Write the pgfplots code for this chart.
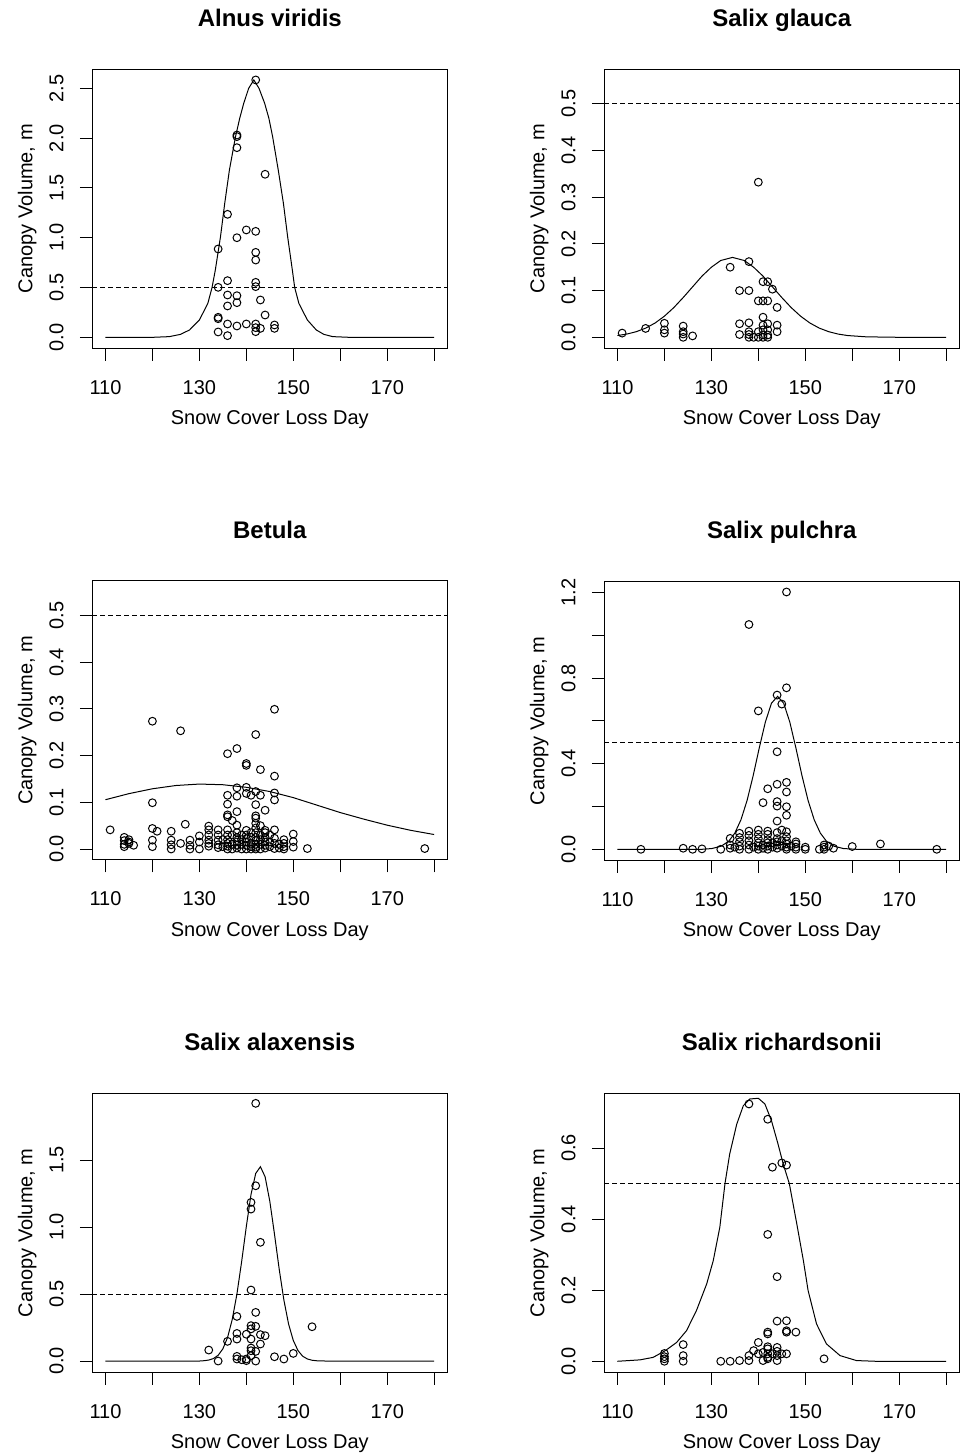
\documentclass[border=0pt]{standalone}
\usepackage{fontspec}
\setmainfont{Liberation Sans}
\usepackage{pgfplots}
\pgfplotsset{compat=1.18}
\newcommand{\labfont}{\fontsize{20}{24}\selectfont}
\newcommand{\titfont}{\fontsize{24}{28}\selectfont\bfseries}
\pgfplotsset{
 rpanel/.style={scale only axis, width=355pt, height=279pt, anchor=south west,
   xmin=107.2, xmax=182.8, xtick={110,120,...,180}, xticklabels={}, yticklabels={},
   tick align=outside, xtick pos=left, ytick pos=left, major tick length=12.5pt,
   tick style={black, line width=1pt}, axis line style={black, line width=1pt},
   clip=false},
 pts/.style={only marks, mark=o, mark size=3.9pt, mark options={line width=1pt, black}, black},
 crv/.style={no markers, black, line width=1pt},
 hl/.style={no markers, black, line width=1pt, dash pattern=on 4.5pt off 3.5pt},
}
\newcommand{\ylab}[2]{\node[rotate=90,anchor=base,font=\labfont,inner sep=0pt] at ([xshift=-29pt]axis cs:107.2,#1) {#2};}
\newcommand{\xlabs}[1]{%
 \node[anchor=base,font=\labfont,inner sep=0pt] at ([yshift=-46pt]axis cs:110,#1) {110};
 \node[anchor=base,font=\labfont,inner sep=0pt] at ([yshift=-46pt]axis cs:130,#1) {130};
 \node[anchor=base,font=\labfont,inner sep=0pt] at ([yshift=-46pt]axis cs:150,#1) {150};
 \node[anchor=base,font=\labfont,inner sep=0pt] at ([yshift=-46pt]axis cs:170,#1) {170};}
\newcommand{\ptext}[1]{%
 \node[anchor=base,font=\titfont,inner sep=0pt] at ([yshift=42.6pt]rel axis cs:0.5,1) {#1};
 \node[anchor=base,font=\labfont,inner sep=0pt] at ([yshift=-76.5pt]rel axis cs:0.5,0) {Snow Cover Loss Day};
 \node[anchor=base,font=\labfont,inner sep=0pt,rotate=90] at ([xshift=-60pt]rel axis cs:0,0.5) {Canopy Volume, m};}
\begin{document}
\begin{tikzpicture}
\path[use as bounding box] (0,0) rectangle (961pt,1454pt);

% ---------- Panel 1: Alnus viridis
\begin{axis}[rpanel, at={(92.3pt,1105.7pt)}, ymin=-0.110, ymax=2.691, ytick={0,0.5,1,1.5,2,2.5}]
\addplot[hl] coordinates {(107.2,0.5) (182.8,0.5)};
\addplot[crv] coordinates {(110,0) (120,0) (123.6,0.007) (126,0.03) (127.9,0.074) (130,0.174) (131.8,0.34) (132.7,0.50) (133.4,0.676) (134.5,1.01) (135.4,1.345) (136.4,1.68) (137.7,2.015) (138.6,2.2) (139.45,2.35) (140.5,2.5) (141.6,2.584) (142.7,2.5) (143.9,2.35) (144.8,2.2) (145.6,2.015) (146.8,1.68) (147.9,1.345) (148.8,1.01) (149.8,0.676) (150.3,0.50) (151.2,0.34) (153.0,0.174) (154.9,0.074) (156.5,0.03) (158.4,0.007) (162,0) (180,0)};
\addplot[pts] coordinates {(142,2.584)(138,2.031)(138,2.015)(138,1.904)(144,1.637)(136,1.235)(140,1.078)(142,1.064)(138,1.0)(134,0.887)(142,0.853)(142,0.776)(136,0.569)(142,0.552)(142,0.509)(134,0.502)(136,0.425)(138,0.418)(138,0.348)(143,0.375)(136,0.315)(144,0.224)(134,0.201)(134,0.187)(136,0.134)(140,0.134)(142,0.134)(138,0.114)(146,0.124)(142,0.097)(143,0.090)(146,0.090)(142,0.057)(134,0.054)(136,0.017)};
\ylab{0}{0.0}\ylab{0.5}{0.5}\ylab{1}{1.0}\ylab{1.5}{1.5}\ylab{2}{2.0}\ylab{2.5}{2.5}
\xlabs{-0.110}
\ptext{Alnus viridis}
\end{axis}

% ---------- Panel 2: Salix glauca
\begin{axis}[rpanel, at={(604.3pt,1105.7pt)}, ymin=-0.0235, ymax=0.5736, ytick={0,0.1,0.2,0.3,0.4,0.5}]
\addplot[hl] coordinates {(107.2,0.5) (182.8,0.5)};
\addplot[crv] coordinates {(110,0.0038) (112,0.0069) (114,0.012) (116,0.0196) (118,0.0305) (120,0.0452) (122,0.0636) (124,0.0851) (126,0.108) (128,0.1309) (130,0.150) (132,0.1644) (134.5,0.171) (137,0.1644) (139,0.150) (141,0.1309) (143,0.108) (145,0.0851) (147,0.0636) (149,0.0452) (151,0.0305) (153,0.0196) (155,0.012) (157,0.0069) (159,0.0038) (163,0.001) (170,0) (180,0)};
\addplot[pts] coordinates {(111,0.009)(116,0.019)(120,0.030)(120,0.016)(120,0.009)(124,0.024)(124,0.012)(124,0.007)(124,0.0)(126,0.003)(134,0.150)(138,0.162)(136,0.100)(138,0.100)(141,0.119)(142,0.119)(143,0.103)(140,0.078)(141,0.078)(142,0.078)(144,0.064)(140,0.332)(136,0.029)(138,0.031)(136,0.006)(138,0.012)(138,0.006)(138,0.0)(139,0.0)(140,0.012)(141,0.043)(141,0.026)(141,0.016)(141,0.005)(142,0.029)(142,0.016)(142,0.005)(144,0.026)(144,0.012)(141,0.0)(140,0.0)(142,0.0)};
\ylab{0}{0.0}\ylab{0.1}{0.1}\ylab{0.2}{0.2}\ylab{0.3}{0.3}\ylab{0.4}{0.4}\ylab{0.5}{0.5}
\xlabs{-0.0235}
\ptext{Salix glauca}
\end{axis}

% ---------- Panel 3: Betula
\begin{axis}[rpanel, at={(92.3pt,594pt)}, ymin=-0.0235, ymax=0.5736, ytick={0,0.1,0.2,0.3,0.4,0.5}]
\addplot[hl] coordinates {(107.2,0.5) (182.8,0.5)};
\addplot[crv] coordinates {(110,0.1055) (115,0.1185) (120,0.1289) (125,0.1359) (130,0.139) (135,0.1376) (140,0.1321) (145,0.1230) (150,0.110) (155,0.094) (160,0.078) (165,0.064) (170,0.051) (175,0.040) (180,0.031)};
\addplot[pts] coordinates {(111,0.041)(114,0.025)(114,0.018)(114,0.01)(114,0.005)(115,0.02)(115,0.015)(115,0.012)(116,0.008)(120,0.2735)(120,0.099)(120,0.044)(120,0.019)(120,0.005)(121,0.038)(126,0.253)(127,0.053)(124,0.038)(124,0.019)(124,0.009)(124,0.0)(126,0.012)(153,0.001)(178,0.001)
(128,0.019)(128,0.008)(128,0.0)
(130,0.028)(130,0.015)(130,0.0)
(132,0.049)(132,0.041)(132,0.03)(132,0.019)(132,0.012)(132,0.006)
(134,0.041)(134,0.03)(134,0.019)(134,0.009)(134,0.003)
(135,0.02)(135,0.005)
(136,0.204)(136,0.115)(136,0.096)(136,0.073)(136,0.069)(136,0.041)(136,0.03)(136,0.02)(136,0.012)(136,0.006)(136,0.0)
(137,0.061)(137,0.03)(137,0.01)(137,0.0)
(138,0.215)(138,0.131)(138,0.113)(138,0.080)(138,0.051)(138,0.035)(138,0.025)(138,0.015)(138,0.008)(138,0.002)
(139,0.03)(139,0.02)(139,0.01)(139,0.0)
(140,0.183)(140,0.179)(140,0.132)(140,0.119)(140,0.04)(140,0.03)(140,0.022)(140,0.015)(140,0.008)(140,0.0)
(141,0.115)(141,0.035)(141,0.025)(141,0.012)(141,0.005)(141,0.0)
(142,0.245)(142,0.123)(142,0.095)(142,0.071)(142,0.066)(142,0.055)(142,0.045)(142,0.035)(142,0.025)(142,0.018)(142,0.01)(142,0.004)(142,0.0)
(143,0.170)(143,0.115)(143,0.05)(143,0.03)(143,0.02)(143,0.01)(143,0.0)
(144,0.083)(144,0.04)(144,0.035)(144,0.025)(144,0.015)(144,0.008)(144,0.002)
(145,0.03)(145,0.015)(145,0.005)
(146,0.299)(146,0.156)(146,0.120)(146,0.105)(146,0.041)(146,0.023)(146,0.012)(146,0.001)
(147,0.01)(147,0.002)
(148,0.02)(148,0.012)(148,0.005)(148,0.0)
(150,0.032)(150,0.016)(150,0.004)};
\ylab{0}{0.0}\ylab{0.1}{0.1}\ylab{0.2}{0.2}\ylab{0.3}{0.3}\ylab{0.4}{0.4}\ylab{0.5}{0.5}
\xlabs{-0.0235}
\ptext{Betula}
\end{axis}

% ---------- Panel 4: Salix pulchra
\begin{axis}[rpanel, at={(604.3pt,593.7pt)}, ymin=-0.0514, ymax=1.253, ytick={0,0.2,0.4,0.6,0.8,1.0,1.2}]
\addplot[hl] coordinates {(107.2,0.5) (182.8,0.5)};
\addplot[crv] coordinates {(110,0) (128,0) (130.1,0.0036) (132.1,0.0146) (133.7,0.038) (135,0.076) (136.3,0.138) (137.6,0.228) (138.9,0.344) (140.2,0.474) (141.5,0.595) (142.8,0.683) (144.1,0.715) (145.4,0.683) (146.7,0.595) (148,0.474) (149.3,0.344) (150.6,0.228) (151.9,0.138) (153.2,0.076) (154.5,0.038) (156.1,0.0146) (158.1,0.0036) (161,0) (180,0)};
\addplot[pts] coordinates {(115,0)(124,0.005)(126,0)(128,0.002)(132,0)(138,1.051)(146,1.203)(146,0.755)(144,0.721)(145,0.679)(140,0.647)(144,0.456)(144,0.304)(146,0.313)(146,0.268)(142,0.283)(141,0.218)(144,0.223)(144,0.202)(146,0.199)(146,0.159)(144,0.132)(145,0.09)(144,0.078)(146,0.082)(146,0.059)
(134,0.051)(134,0.02)(134,0.005)(135,0.01)(136,0.075)(136,0.055)(136,0.035)(136,0.015)(136,0.0)(138,0.085)(138,0.065)(138,0.04)(138,0.02)(138,0.0)(139,0.01)(140,0.09)(140,0.07)(140,0.05)(140,0.03)(140,0.015)(140,0.0)(141,0.02)(141,0.005)(142,0.085)(142,0.07)(142,0.045)(142,0.03)(142,0.015)(142,0.0)(143,0.03)(143,0.01)(144,0.05)(144,0.035)(144,0.02)(144,0.005)(145,0.04)(145,0.015)(146,0.04)(146,0.025)(146,0.01)(146,0.0)(147,0.015)(148,0.035)(148,0.025)(148,0.01)(148,0.0)(150,0.01)(150,0.0)(153,0.0)(154,0.01)(154,0.0)(154,0.02)(155,0.015)(156,0.005)(160,0.013)(166,0.025)(178,0.0)};
\ylab{0}{0.0}\ylab{0.4}{0.4}\ylab{0.8}{0.8}\ylab{1.2}{1.2}
\xlabs{-0.0514}
\ptext{Salix pulchra}
\end{axis}

% ---------- Panel 5: Salix alaxensis
\begin{axis}[rpanel, at={(92.3pt,81.7pt)}, ymin=-0.084, ymax=1.998, ytick={0,0.5,1.0,1.5}]
\addplot[hl] coordinates {(107.2,0.5) (182.8,0.5)};
\addplot[crv] coordinates {(110,0) (130,0) (131,0.0025) (132,0.0074) (133,0.0185) (134,0.043) (135,0.0906) (136,0.175) (137,0.31) (138,0.50) (139,0.741) (140,1.004) (141,1.243) (142,1.40) (143,1.45) (144,1.375) (145,1.193) (146,0.946) (147,0.686) (148,0.455) (149,0.276) (150,0.154) (151,0.078) (152,0.036) (153,0.0155) (154,0.006) (155,0.002) (157,0) (180,0)};
\addplot[pts] coordinates {(142,1.923)(142,1.308)(141,1.184)(141,1.134)(143,0.886)(141,0.530)(142,0.363)(138,0.333)(154,0.256)(141,0.264)(141,0.24)(142,0.259)(140,0.20)(138,0.206)(138,0.164)(136,0.147)(141,0.164)(143,0.197)(144,0.189)(143,0.127)(132,0.082)(141,0.097)(141,0.077)(142,0.072)(141,0.04)(138,0.035)(138,0.015)(139,0.01)(140,0.003)(140,0.015)(142,0.0)(134,0.0)(146,0.032)(148,0.015)(150,0.057)};
\ylab{0}{0.0}\ylab{0.5}{0.5}\ylab{1}{1.0}\ylab{1.5}{1.5}
\xlabs{-0.084}
\ptext{Salix alaxensis}
\end{axis}

% ---------- Panel 6: Salix richardsonii
\begin{axis}[rpanel, at={(604.3pt,81.7pt)}, ymin=-0.031, ymax=0.754, ytick={0,0.2,0.4,0.6}]
\addplot[hl] coordinates {(107.2,0.5) (182.8,0.5)};
\addplot[crv] coordinates {(110,0) (114.8,0.004) (117.6,0.011) (120.2,0.03) (122.6,0.053) (124.7,0.086) (126.8,0.142) (129.0,0.2175) (130.4,0.283) (131.8,0.377) (132.9,0.50) (133.9,0.583) (135.4,0.667) (136.8,0.719) (138.2,0.738) (140.0,0.74) (141.4,0.724) (142.8,0.677) (144.2,0.611) (145.3,0.555) (146.6,0.50) (148.2,0.386) (149.6,0.283) (150.6,0.199) (152.4,0.105) (154.5,0.049) (157.4,0.016) (160.9,0.002) (165,0) (180,0)};
\addplot[pts] coordinates {(138,0.724)(142,0.681)(145,0.558)(146,0.552)(143,0.546)(142,0.357)(144,0.238)(144,0.113)(146,0.114)(142,0.082)(142,0.077)(146,0.086)(146,0.082)(148,0.082)(140,0.053)(139,0.03)(140,0.021)(138,0.016)(138,0.002)(136,0.002)(134,0)(132,0)(141,0.002)(142,0.041)(142,0.035)(142,0.021)(142,0.011)(142,0.007)(143,0.021)(144,0.039)(144,0.028)(144,0.016)(144,0.002)(145,0.021)(146,0.021)(141,0.025)(154,0.007)(120,0.022)(120,0.013)(120,0.007)(120,0.0)(124,0.047)(124,0.016)(124,0.0)};
\ylab{0}{0.0}\ylab{0.2}{0.2}\ylab{0.4}{0.4}\ylab{0.6}{0.6}
\xlabs{-0.031}
\ptext{Salix richardsonii}
\end{axis}
\end{tikzpicture}
\end{document}
